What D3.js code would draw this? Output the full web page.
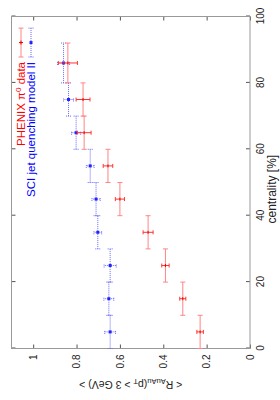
<!doctype html>
<html lang="en">
  <head>
    <meta charset="UTF-8" />
    <title>R_AuAu vs centrality</title>
    <script src="https://d3js.org/d3.v7.min.js"></script>
    <style>
      body {
        margin: 0;
        padding: 0;
        background: #fff;
        font-family: "Liberation Sans", Arial, sans-serif;
      }
      svg {
        display: block;
      }
    </style>
  </head>
  <body>
    <script>
      // values
      const centrality = [5, 15, 25, 35, 45, 55, 65, 75, 86];
      const centralityErr = [5, 5, 5, 5, 5, 5, 5, 5, 6];
      const phenixR = [0.23, 0.31, 0.39, 0.47, 0.6, 0.655, 0.765, 0.77, 0.84];
      const phenixErr = [0.015, 0.014, 0.017, 0.023, 0.021, 0.022, 0.032, 0.032, 0.044];
      const sciR = [0.645, 0.651, 0.645, 0.702, 0.71, 0.737, 0.802, 0.837, 0.86];
      const sciErr = [0.025, 0.023, 0.028, 0.018, 0.019, 0.018, 0.021, 0.023, 0.028];
      const centTicks = [0, 20, 40, 60, 80, 100];
      const rTicks = [0, 0.2, 0.4, 0.6, 0.8, 1];

      const width = 280;
      const height = 400;

      const svg = d3.select("body").append("svg").attr("width", width).attr("height", height);

      // the plot is drawn landscape (400 x 280) and turned a quarter anticlockwise
      const g = svg.append("g").attr("transform", `translate(0,${height}) rotate(-90)`);

      const x = d3.scaleLinear().domain([0, 100]).range([51.5, 383.5]);
      const y = d3.scaleLinear().domain([0, 1.1]).range([250, 11.5]);

      const tickColor = "#555";
      const fmt = (d) => String(d);

      function styleAxis(sel) {
        sel.select(".domain").remove();
        sel.selectAll(".tick line").attr("stroke", tickColor);
        sel.selectAll("text").attr("fill", "#222").style("font-size", "10px");
      }

      g.append("g")
        .attr("transform", `translate(0,${y(0)})`)
        .call(d3.axisBottom(x).tickValues(centTicks).tickSize(-4).tickPadding(7).tickFormat(fmt))
        .call(styleAxis);
      g.append("g")
        .attr("transform", `translate(0,${y(1.1)})`)
        .call(d3.axisTop(x).tickValues(centTicks).tickSize(-4).tickFormat(""))
        .call(styleAxis);
      g.append("g")
        .attr("transform", `translate(${x(0)},0)`)
        .call(d3.axisLeft(y).tickValues(rTicks).tickSize(-4).tickPadding(6).tickFormat(fmt))
        .call(styleAxis);
      g.append("g")
        .attr("transform", `translate(${x(100)},0)`)
        .call(d3.axisRight(y).tickValues(rTicks).tickSize(-4).tickFormat(""))
        .call(styleAxis);

      g.append("rect")
        .attr("x", x(0))
        .attr("y", y(1.1))
        .attr("width", x(100) - x(0))
        .attr("height", y(0) - y(1.1))
        .attr("fill", "none")
        .attr("stroke", "#999")
        .attr("stroke-width", 1);

      // axis titles
      g.append("text")
        .attr("x", x(48))
        .attr("y", 272)
        .attr("dy", "0.35em")
        .attr("text-anchor", "middle")
        .attr("fill", "#222")
        .style("font-size", "12px")
        .text("centrality [%]");

      const ylab = g
        .append("text")
        .attr("transform", `translate(15,${(y(0) + y(1.1)) / 2}) rotate(-90)`)
        .attr("dy", "0.35em")
        .attr("text-anchor", "middle")
        .attr("fill", "#222")
        .style("font-size", "10.5px");
      ylab.append("tspan").text("< R");
      ylab.append("tspan").attr("dy", 2.5).style("font-size", "7.5px").text("AuAu");
      ylab.append("tspan").attr("dy", -2.5).text("(p");
      ylab.append("tspan").attr("dy", 2.5).style("font-size", "7.5px").text("T");
      ylab.append("tspan").attr("dy", -2.5).text(" > 3 GeV) >");

      const pts = centrality.map((c, i) => ({
        c,
        ce: centralityErr[i],
        phenix: phenixR[i],
        phenixE: phenixErr[i],
        sci: sciR[i],
        sciE: sciErr[i],
      }));

      const cap = 2.5;

      // SCI model (blue, dotted bars, square marks)
      const blue = g.append("g").attr("stroke", "#6a6aff").attr("stroke-width", 1).attr("stroke-dasharray", "1,1");
      const bp = blue.selectAll("g").data(pts).join("g");
      bp.append("line")
        .attr("x1", (d) => x(d.c - d.ce))
        .attr("x2", (d) => x(d.c + d.ce))
        .attr("y1", (d) => y(d.sci))
        .attr("y2", (d) => y(d.sci));
      bp.append("line")
        .attr("x1", (d) => x(d.c - d.ce))
        .attr("x2", (d) => x(d.c - d.ce))
        .attr("y1", (d) => y(d.sci) - cap)
        .attr("y2", (d) => y(d.sci) + cap);
      bp.append("line")
        .attr("x1", (d) => x(d.c + d.ce))
        .attr("x2", (d) => x(d.c + d.ce))
        .attr("y1", (d) => y(d.sci) - cap)
        .attr("y2", (d) => y(d.sci) + cap);
      bp.append("line")
        .attr("x1", (d) => x(d.c))
        .attr("x2", (d) => x(d.c))
        .attr("y1", (d) => y(d.sci - d.sciE))
        .attr("y2", (d) => y(d.sci + d.sciE));
      bp.append("line")
        .attr("x1", (d) => x(d.c) - 2)
        .attr("x2", (d) => x(d.c) + 2)
        .attr("y1", (d) => y(d.sci - d.sciE))
        .attr("y2", (d) => y(d.sci - d.sciE));
      bp.append("line")
        .attr("x1", (d) => x(d.c) - 2)
        .attr("x2", (d) => x(d.c) + 2)
        .attr("y1", (d) => y(d.sci + d.sciE))
        .attr("y2", (d) => y(d.sci + d.sciE));
      g.append("g")
        .selectAll("rect")
        .data(pts)
        .join("rect")
        .attr("x", (d) => x(d.c) - 1.5)
        .attr("y", (d) => y(d.sci) - 1.5)
        .attr("width", 3)
        .attr("height", 3)
        .attr("fill", "#2222ff");

      // PHENIX data (red)
      const red = g.append("g").attr("stroke-width", 1);
      const rp = red.selectAll("g").data(pts).join("g");
      rp.append("line")
        .attr("stroke", "#ff8585")
        .attr("x1", (d) => x(d.c - d.ce))
        .attr("x2", (d) => x(d.c + d.ce))
        .attr("y1", (d) => y(d.phenix))
        .attr("y2", (d) => y(d.phenix));
      rp.append("line")
        .attr("stroke", "#ff8585")
        .attr("x1", (d) => x(d.c - d.ce))
        .attr("x2", (d) => x(d.c - d.ce))
        .attr("y1", (d) => y(d.phenix) - cap)
        .attr("y2", (d) => y(d.phenix) + cap);
      rp.append("line")
        .attr("stroke", "#ff8585")
        .attr("x1", (d) => x(d.c + d.ce))
        .attr("x2", (d) => x(d.c + d.ce))
        .attr("y1", (d) => y(d.phenix) - cap)
        .attr("y2", (d) => y(d.phenix) + cap);
      rp.append("line")
        .attr("stroke", "#f33")
        .attr("x1", (d) => x(d.c))
        .attr("x2", (d) => x(d.c))
        .attr("y1", (d) => y(d.phenix - d.phenixE))
        .attr("y2", (d) => y(d.phenix + d.phenixE));
      rp.append("line")
        .attr("stroke", "#f33")
        .attr("x1", (d) => x(d.c) - 2)
        .attr("x2", (d) => x(d.c) + 2)
        .attr("y1", (d) => y(d.phenix - d.phenixE))
        .attr("y2", (d) => y(d.phenix - d.phenixE));
      rp.append("line")
        .attr("stroke", "#f33")
        .attr("x1", (d) => x(d.c) - 2)
        .attr("x2", (d) => x(d.c) + 2)
        .attr("y1", (d) => y(d.phenix + d.phenixE))
        .attr("y2", (d) => y(d.phenix + d.phenixE));
      rp.append("line")
        .attr("stroke", "#e00")
        .attr("x1", (d) => x(d.c) - 1.5)
        .attr("x2", (d) => x(d.c) + 1.5)
        .attr("y1", (d) => y(d.phenix))
        .attr("y2", (d) => y(d.phenix));

      // key, top right of the landscape plot
      const keyX0 = x(87.8);
      const keyX1 = x(96.5);
      const keyText = x(86.3);
      const keyRows = [
        { v: 21, bar: "#ff8585", dash: null },
        { v: 31, bar: "#6a6aff", dash: "1,1" },
      ];
      const key = g.append("g");
      keyRows.forEach((k) => {
        const row = key.append("g").attr("stroke", k.bar).attr("stroke-dasharray", k.dash);
        row.append("line").attr("x1", keyX0).attr("x2", keyX1).attr("y1", k.v).attr("y2", k.v);
        row.append("line").attr("x1", keyX0).attr("x2", keyX0).attr("y1", k.v - cap).attr("y2", k.v + cap);
        row.append("line").attr("x1", keyX1).attr("x2", keyX1).attr("y1", k.v - cap).attr("y2", k.v + cap);
      });
      const mid = (keyX0 + keyX1) / 2;
      key.append("line")
        .attr("x1", mid - 2)
        .attr("x2", mid + 2)
        .attr("y1", 21)
        .attr("y2", 21)
        .attr("stroke", "#e00");
      key.append("line")
        .attr("x1", mid)
        .attr("x2", mid)
        .attr("y1", 19)
        .attr("y2", 23)
        .attr("stroke", "#e00");
      key.append("rect")
        .attr("x", mid - 1.5)
        .attr("y", 31 - 1.5)
        .attr("width", 3)
        .attr("height", 3)
        .attr("fill", "#2222ff");

      const t1 = key
        .append("text")
        .attr("x", keyText)
        .attr("y", 21)
        .attr("dy", "0.35em")
        .attr("text-anchor", "end")
        .attr("fill", "#f00")
        .style("font-size", "11.5px");
      t1.append("tspan").text("PHENIX π");
      t1.append("tspan").attr("dy", -4).style("font-size", "8px").text("0");
      t1.append("tspan").attr("dy", 4).text(" data");

      key.append("text")
        .attr("x", keyText)
        .attr("y", 31)
        .attr("dy", "0.35em")
        .attr("text-anchor", "end")
        .attr("fill", "#00f")
        .style("font-size", "11.5px")
        .text("SCI jet quenching model II");
    </script>
  </body>
</html>
